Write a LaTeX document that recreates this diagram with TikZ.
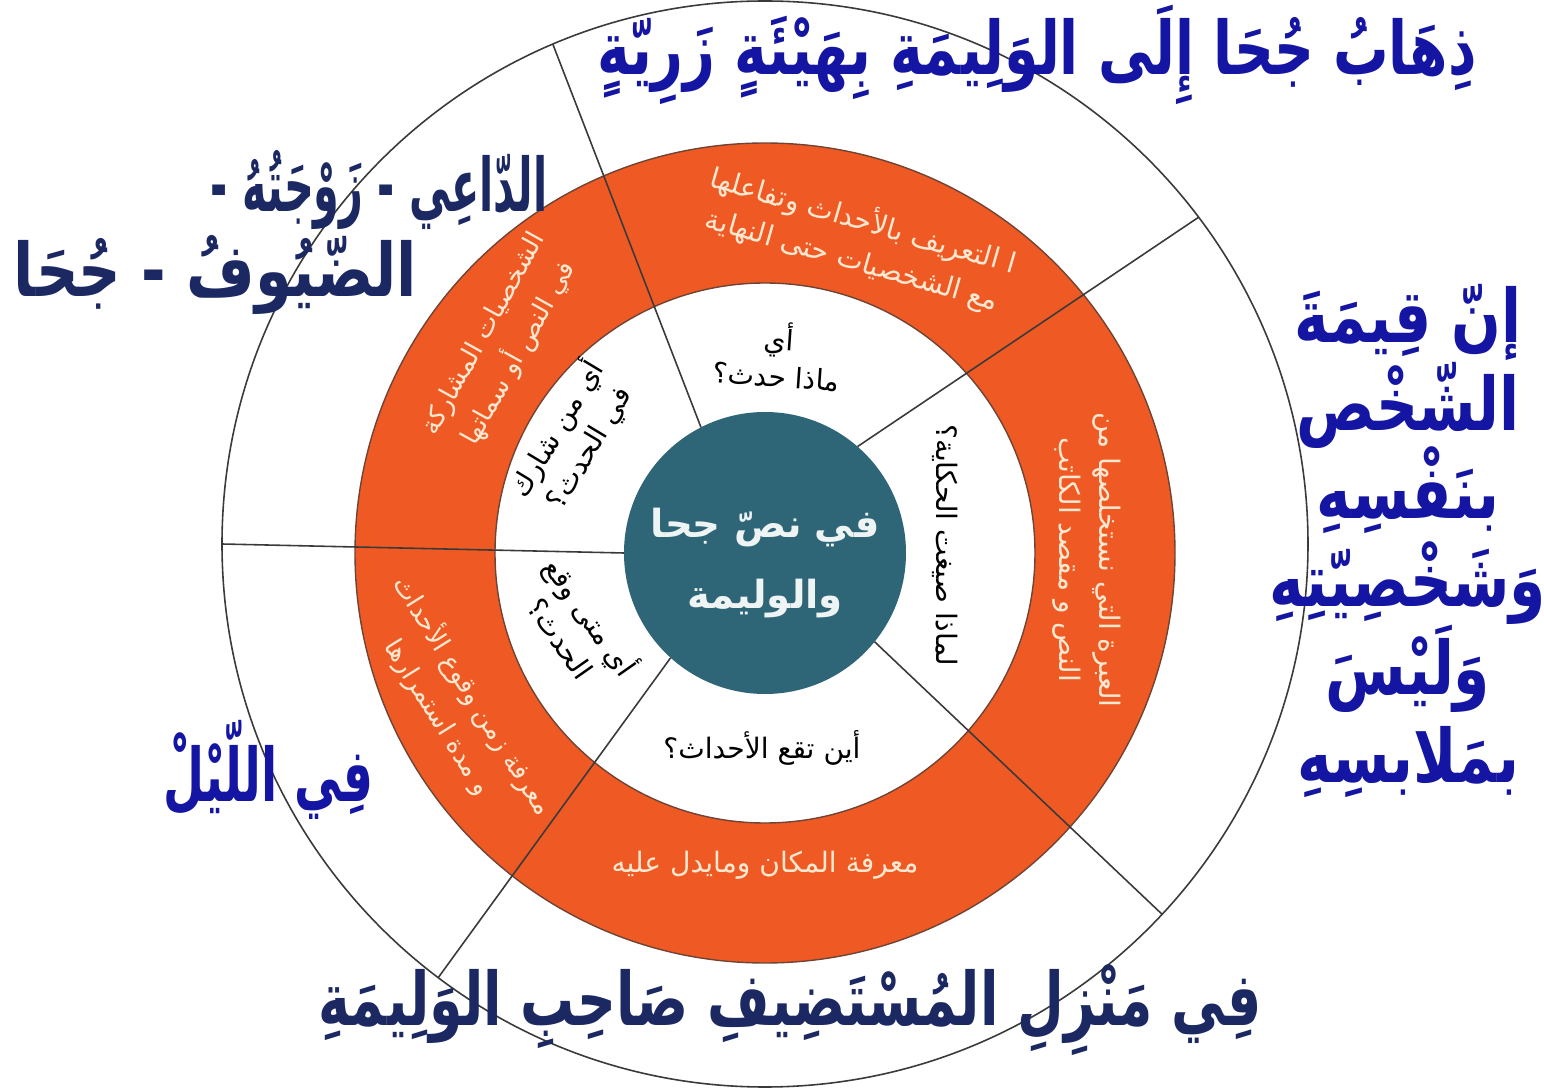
\documentclass[tikz,border=0pt]{standalone}
\usepackage{fontspec}
\usepackage{graphicx}
\newfontfamily\arabicfont[Script=Arabic]{DejaVu Sans}
\TeXXeTstate=1
\usetikzlibrary{calc}

\definecolor{ringorange}{HTML}{EF5A24}
\definecolor{hubteal}{HTML}{2F6677}
\definecolor{titleblue}{HTML}{1515A3}
\definecolor{titlenavy}{HTML}{1B2862}
\definecolor{ringtext}{HTML}{FCE8D0}
\definecolor{rule}{HTML}{3A3A3A}

\newcommand{\rl}[1]{\beginR #1\endR}
\newcommand{\squeeze}[2]{\scalebox{#1}[1]{#2}}

\begin{document}
\lineskiplimit=-30pt\relax
\begin{tikzpicture}[x=0.01cm, y=0.01cm,
    big blue/.style={font=\arabicfont\bfseries\fontsize{21}{25}\selectfont,
      text=titleblue, inner sep=0pt, align=center},
    big navy/.style={big blue, text=titlenavy},
    ring txt/.style={font=\arabicfont\fontsize{8}{11.5}\selectfont,
      text=ringtext, inner sep=0pt, align=center},
    small ring txt/.style={ring txt, font=\arabicfont\fontsize{7.4}{11.5}\selectfont},
    inner txt/.style={font=\arabicfont\fontsize{8}{10.5}\selectfont,
      text=black, inner sep=0pt, align=center},
    hub txt/.style={font=\arabicfont\bfseries\fontsize{11}{20}\selectfont,
      text=white!92!hubteal, inner sep=0pt, align=center}
  ]
  \useasboundingbox (0,0) rectangle (1544,1090);
  \fill[white] (0,0) rectangle (1544,1090);

  \coordinate (co) at (765,546);
  \coordinate (c) at (765,537);

  % rings
  \draw[rule, line width=0.45pt] (co) circle (543);
  \fill[ringorange, even odd rule] (c) circle (410) (c) circle (270);
  \draw[rule!70!ringorange, line width=0.4pt] (c) circle (410) (c) circle (270);
  \fill[hubteal] (c) circle (141);

  \tikzset{divider/.style={rule, line width=0.45pt}}
  \foreach \a/\b in {180/180, 117/113, 49/37, -39/-43, 228/233}
    \draw[divider] ($(c)+(\a:141)$) -- ($(co)+(\b:543)$);

  \node[hub txt] (hub) at (765,527) {\rl{في نصّ جحا}\\\rl{والوليمة}};

  % orange ring
  \node[ring txt, rotate=-16] (events) at (858,850)
    {\rl{ا التعريف بالأحداث وتفاعلها}\\\rl{مع الشخصيات حتى النهاية}};
  \node[small ring txt, rotate=61] (cast) at (502,746)
    {\rl{الشخصيات المشاركة}\\\rl{في النص أو سماتها}};
  \node[ring txt, rotate=-90] (moral) at (1087,530)
    {\rl{العبرة التي نستخلصها من}\\\rl{النص و مقصد الكاتب}};
  \node[ring txt] (place) at (765,225) {\rl{معرفة المكان ومايدل عليه}};
  \node[small ring txt, rotate=-58] (time) at (456,384)
    {\rl{معرفة زمن وقوع الأحداث}\\\rl{و مدة استمرارها}};

  % white ring
  \node[inner txt, rotate=-4] (what) at (778,735) {\rl{أي}\\\rl{ماذا حدث؟}};
  \node[inner txt, rotate=59] (who) at (572,652) {\rl{أي من شارك}\\\rl{في الحدث؟}};
  \node[inner txt, rotate=-90] (why) at (945,545) {\rl{لماذا صيغت الحكاية؟}};
  \node[inner txt] (wherein) at (762,342) {\rl{أين تقع الأحداث؟}};
  \node[inner txt, rotate=-55] (whenin) at (578,464) {\rl{أي متى وقع}\\\rl{الحدث؟}};

  % answers round the circle
  \node[big blue] (visit) at (1037,1035)
    {\squeeze{0.75}{\rl{ذِهَابُ جُحَا إِلَى الوَلِيمَةِ بِهَيْئَةٍ زَرِيّةٍ}}};
  \node[big navy, anchor=east] (people1) at (548,900)
    {\squeeze{0.56}{\rl{الدّاعِي - زَوْجَتُهُ -}}};
  \node[big navy, anchor=east] (people2) at (418,815)
    {\squeeze{0.8}{\rl{الضّيُوفُ - جُحَا}}};
  \node[big blue] (value) at (1408,549)
    {\squeeze{0.79}{\rl{إنّ قِيمَةَ}}\\\squeeze{0.79}{\rl{الشّخْص}}\\\squeeze{0.79}{\rl{بنَفْسِهِ}}\\
     \squeeze{0.79}{\rl{وَشَخْصِيّتِهِ}}\\\squeeze{0.79}{\rl{وَلَيْسَ}}\\\squeeze{0.79}{\rl{بمَلابسِهِ}}};
  \node[big blue] (night) at (268,320) {\squeeze{0.64}{\rl{فِي اللّيْلْ}}};
  \node[big navy] (house) at (790,80)
    {\squeeze{0.73}{\rl{فِي مَنْزِلِ المُسْتَضِيفِ صَاحِبِ الوَلِيمَةِ}}};
\end{tikzpicture}
\end{document}
